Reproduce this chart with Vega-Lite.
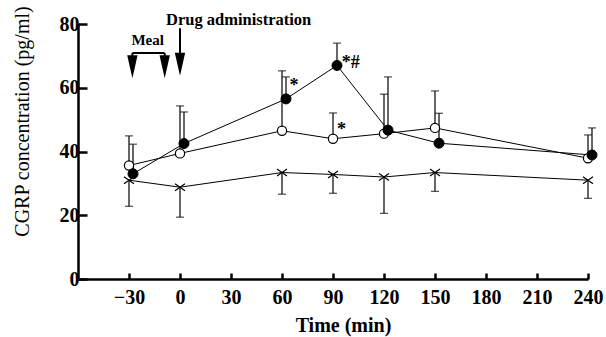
{
  "$schema": "https://vega.github.io/schema/vega-lite/v6.json",
  "width": 510,
  "height": 255,
  "autosize": {"type": "none"},
  "padding": {"left": 78, "top": 24, "right": 18, "bottom": 58},
  "background": "white",
  "config": {
    "view": {"stroke": null},
    "font": "Liberation Serif",
    "axis": {"grid": false, "domainColor": "black", "domainWidth": 2.5, "tickColor": "black", "tickWidth": 2.5, "labelColor": "black", "titleColor": "black", "labelFont": "Liberation Serif", "labelFontWeight": "bold", "labelFontSize": 20, "titleFont": "Liberation Serif", "labelFlush": false, "labelOverlap": false}
  },
  "datasets": {
    "cgrp": [
      {"group": "open", "time": -30, "mean": 35.6, "cap": 44.9},
      {"group": "open", "time": 0, "mean": 39.4, "cap": 54.3},
      {"group": "open", "time": 60, "mean": 46.5, "cap": 65.3},
      {"group": "open", "time": 90, "mean": 44.0, "cap": 52.1},
      {"group": "open", "time": 120, "mean": 45.6, "cap": 58.0},
      {"group": "open", "time": 150, "mean": 47.4, "cap": 59.0},
      {"group": "open", "time": 240, "mean": 37.9, "cap": 45.2},
      {"group": "filled", "time": -30, "mean": 33.0, "cap": 42.3},
      {"group": "filled", "time": 0, "mean": 42.5, "cap": 52.4},
      {"group": "filled", "time": 60, "mean": 56.5, "cap": 63.4},
      {"group": "filled", "time": 90, "mean": 67.0, "cap": 74.0},
      {"group": "filled", "time": 120, "mean": 46.7, "cap": 63.4},
      {"group": "filled", "time": 150, "mean": 42.6, "cap": 52.0},
      {"group": "filled", "time": 240, "mean": 38.9, "cap": 47.4},
      {"group": "cross", "time": -30, "mean": 31.0, "cap": 22.8},
      {"group": "cross", "time": 0, "mean": 28.8, "cap": 19.4},
      {"group": "cross", "time": 60, "mean": 33.4, "cap": 26.6},
      {"group": "cross", "time": 90, "mean": 32.8, "cap": 26.9},
      {"group": "cross", "time": 120, "mean": 32.0, "cap": 20.6},
      {"group": "cross", "time": 150, "mean": 33.4, "cap": 27.5},
      {"group": "cross", "time": 240, "mean": 31.0, "cap": 25.3}
    ]
  },
  "encoding": {
    "x": {"field": "time", "type": "quantitative", "scale": {"domain": [-60, 240], "nice": false, "zero": false},
      "axis": {"values": [-30, 0, 30, 60, 90, 120, 150, 180, 210, 240], "title": "Time (min)", "tickSize": -6, "labelPadding": 14, "titleFontSize": 20, "titleFontWeight": "bold", "titleX": 265, "titleY": 46, "titleBaseline": "middle"}},
    "y": {"field": "mean", "type": "quantitative", "scale": {"domain": [0, 80], "nice": false},
      "axis": {"values": [0, 20, 40, 60, 80], "title": "CGRP concentration (pg/ml)", "tickSize": -9, "labelPadding": 8, "titleFontSize": 20, "titleFontWeight": "normal", "titleAngle": -90, "titleX": -56, "titleY": 97, "titleAlign": "center", "titleBaseline": "middle"}}
  },
  "layer": [
    {
      "data": {"name": "cgrp"},
      "transform": [{"filter": "datum.group !== 'filled'"}],
      "mark": {"type": "line", "color": "black", "strokeWidth": 1},
      "encoding": {"detail": {"field": "group"}}
    },
    {
      "data": {"name": "cgrp"},
      "transform": [{"filter": "datum.group === 'filled'"}],
      "mark": {"type": "line", "color": "black", "strokeWidth": 1, "xOffset": 4}
    },
    {
      "data": {"name": "cgrp"},
      "transform": [{"filter": "datum.group !== 'filled'"}],
      "mark": {"type": "rule", "color": "black", "strokeWidth": 1.2},
      "encoding": {"y2": {"field": "cap"}}
    },
    {
      "data": {"name": "cgrp"},
      "transform": [{"filter": "datum.group === 'filled'"}],
      "mark": {"type": "rule", "color": "black", "strokeWidth": 1.2, "xOffset": 4},
      "encoding": {"y2": {"field": "cap"}}
    },
    {
      "data": {"name": "cgrp"},
      "transform": [{"filter": "datum.group !== 'filled'"}],
      "mark": {"type": "tick", "orient": "horizontal", "color": "black", "size": 8, "thickness": 1.2},
      "encoding": {"y": {"field": "cap", "type": "quantitative"}}
    },
    {
      "data": {"name": "cgrp"},
      "transform": [{"filter": "datum.group === 'filled'"}],
      "mark": {"type": "tick", "orient": "horizontal", "color": "black", "size": 8, "thickness": 1.2, "xOffset": 4},
      "encoding": {"y": {"field": "cap", "type": "quantitative"}}
    },
    {
      "data": {"name": "cgrp"},
      "transform": [{"filter": "datum.group === 'cross'"}],
      "mark": {"type": "point", "shape": "M-1,-0.7L1,0.7M-1,0.7L1,-0.7", "size": 100, "filled": false, "stroke": "black", "strokeWidth": 1.2, "opacity": 1}
    },
    {
      "data": {"name": "cgrp"},
      "transform": [{"filter": "datum.group === 'open'"}],
      "mark": {"type": "point", "shape": "circle", "size": 85, "filled": true, "fill": "white", "stroke": "black", "strokeWidth": 1.2, "opacity": 1}
    },
    {
      "data": {"name": "cgrp"},
      "transform": [{"filter": "datum.group === 'filled'"}],
      "mark": {"type": "point", "shape": "circle", "size": 100, "filled": true, "fill": "black", "stroke": "black", "strokeWidth": 1, "opacity": 1, "xOffset": 4}
    },
    {
      "data": {"values": [
        {"x": -28, "y": 70.9, "x2": -9, "y2": 70.9},
        {"x": -28, "y": 70.9, "x2": -28, "y2": 68},
        {"x": -9, "y": 70.9, "x2": -9, "y2": 68},
        {"x": 0, "y": 78.7, "x2": 0, "y2": 68}
      ]},
      "mark": {"type": "rule", "color": "black", "strokeWidth": 2, "clip": false},
      "encoding": {
        "x": {"field": "x", "type": "quantitative"},
        "y": {"field": "y", "type": "quantitative"},
        "x2": {"field": "x2"},
        "y2": {"field": "y2"}
      }
    },
    {
      "data": {"values": [
        {"x": -28, "y": 66.6},
        {"x": -9, "y": 66.6},
        {"x": 0, "y": 67.4}
      ]},
      "mark": {"type": "point", "shape": "M-0.45,-1L0.45,-1L0,1Z", "size": 529, "filled": true, "fill": "black", "stroke": null, "opacity": 1},
      "encoding": {
        "x": {"field": "x", "type": "quantitative"},
        "y": {"field": "y", "type": "quantitative"}
      }
    },
    {
      "data": {"values": [
        {"label": "Drug administration", "x": 34.5, "y": 81.3, "size": 16.5},
        {"label": "Meal", "x": -19, "y": 75.0, "size": 15},
        {"label": "*", "x": 67, "y": 60.5, "size": 18},
        {"label": "*#", "x": 100.5, "y": 67.7, "size": 18},
        {"label": "*", "x": 95, "y": 46.7, "size": 18}
      ]},
      "mark": {"type": "text", "font": "Liberation Serif", "fontWeight": "bold", "color": "black", "align": "center", "baseline": "middle", "clip": false},
      "encoding": {
        "x": {"field": "x", "type": "quantitative"},
        "y": {"field": "y", "type": "quantitative"},
        "text": {"field": "label"},
        "size": {"field": "size", "type": "quantitative", "scale": null}
      }
    }
  ]
}
